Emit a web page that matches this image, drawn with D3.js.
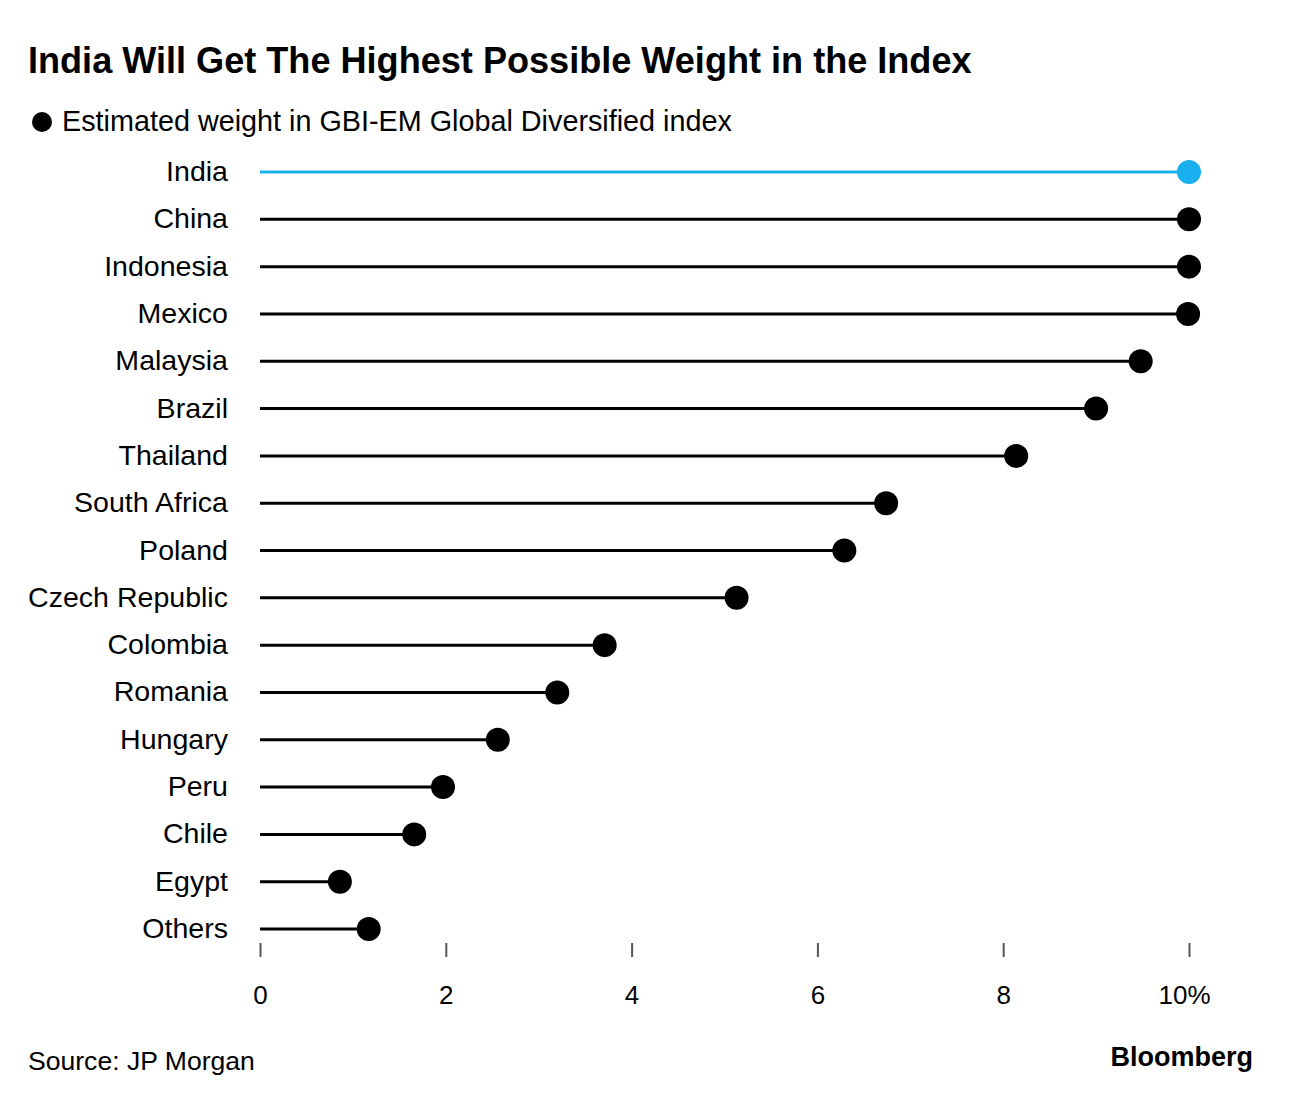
<!DOCTYPE html>
<html><head><meta charset="utf-8">
<script src="https://cdn.jsdelivr.net/npm/d3@7"></script>
<style>body{margin:0;background:#fff}svg{display:block}text{font-family:"Liberation Sans",Arial,sans-serif}</style>
</head><body><svg id="c" width="1293" height="1102"></svg>
<script>
const countries = ["India","China","Indonesia","Mexico","Malaysia","Brazil","Thailand","South Africa","Poland","Czech Republic","Colombia","Romania","Hungary","Peru","Chile","Egypt","Others"];
const weights = [10.0,10.0,10.0,9.99,9.48,9.0,8.14,6.74,6.29,5.13,3.71,3.2,2.56,1.97,1.66,0.86,1.17];
const tickValues = [0,2,4,6,8,10];
const tickLabels = ["0","2","4","6","8","10%"];
const highlight = "India";

const svg = d3.select("#c");
const x = d3.scaleLinear().domain([0,10]).range([260,1189]);
const y = d3.scalePoint().domain(countries).range([172,929]);

const title = svg.append("text").attr("x",28).attr("y",73).attr("font-size",34).attr("font-weight","bold").attr("fill","#000")
  .text("India Will Get The Highest Possible Weight in the Index");
const tw = title.node().getComputedTextLength();
title.attr("font-size", 34*944/tw);

svg.append("circle").attr("cx",42).attr("cy",122).attr("r",10).attr("fill","#000");
const leg = svg.append("text").attr("x",62).attr("y",131).attr("font-size",26).attr("fill","#000")
  .text("Estimated weight in GBI-EM Global Diversified index");
leg.attr("font-size", 26*670/leg.node().getComputedTextLength());

const g = svg.append("g");
const cats = g.selectAll("text.cat").data(countries).join("text").attr("class","cat")
  .attr("x",228).attr("y",d=>y(d)+9).attr("text-anchor","end").attr("font-size",26).attr("fill","#000").text(d=>d);
const czw = cats.filter(d=>d==="Czech Republic").node().getComputedTextLength();
cats.attr("font-size", 26*200/czw);

const rows = countries.map((c,i)=>({c,v:weights[i]}));
g.selectAll("line.stem").data(rows).join("line").attr("class","stem")
  .attr("x1",x(0)).attr("x2",d=>x(d.v)).attr("y1",d=>y(d.c)).attr("y2",d=>y(d.c))
  .attr("stroke",d=>d.c===highlight?"#1ab0f0":"#000").attr("stroke-width",3);
g.selectAll("circle.dot").data(rows).join("circle").attr("class","dot")
  .attr("cx",d=>x(d.v)).attr("cy",d=>y(d.c)).attr("r",12)
  .attr("fill",d=>d.c===highlight?"#1ab0f0":"#000");

const ax = d3.axisBottom(x).tickValues(tickValues).tickSize(14).tickFormat((d,i)=>tickLabels[i]);
const axg = svg.append("g").attr("transform","translate(0,943)").call(ax);
axg.select(".domain").remove();
axg.selectAll(".tick line").attr("stroke","#555").attr("stroke-width",2);
axg.selectAll(".tick text").attr("font-size",26).attr("fill","#000").attr("y",43).attr("dy","0.71em")
  .attr("font-family","Liberation Sans, Arial, sans-serif")
  .attr("dx",(d,i)=>i===tickLabels.length-1?-5:0);

const src = svg.append("text").attr("x",28).attr("y",1070).attr("font-size",24).attr("fill","#000").text("Source: JP Morgan");
src.attr("font-size", 24*227/src.node().getComputedTextLength());
svg.append("text").attr("x",1253).attr("y",1066).attr("text-anchor","end").attr("font-size",27).attr("font-weight","bold").attr("fill","#000").text("Bloomberg");
</script></body></html>
